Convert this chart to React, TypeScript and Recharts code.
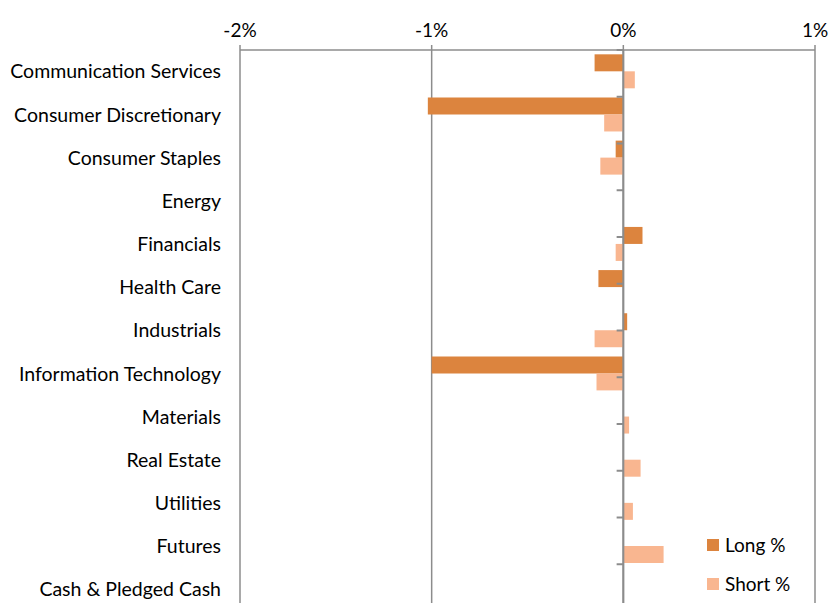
import { BarChart, Bar, XAxis, YAxis, CartesianGrid, ReferenceLine } from 'recharts';

const categories = [
  'Communication Services',
  'Consumer Discretionary',
  'Consumer Staples',
  'Energy',
  'Financials',
  'Health Care',
  'Industrials',
  'Information Technology',
  'Materials',
  'Real Estate',
  'Utilities',
  'Futures',
  'Cash & Pledged Cash',
];

const longPct = [-0.15, -1.02, -0.04, 0, 0.1, -0.13, 0.02, -1.0, 0, 0, 0, 0, 0];
const shortPct = [0.06, -0.1, -0.12, 0, -0.04, 0, -0.15, -0.14, 0.03, 0.09, 0.05, 0.21, 0];

const xTicks = [-2, -1, 0, 1];

const LONG_COLOR = '#DC843E';
const SHORT_COLOR = '#F9B690';
const GRID = '#8c8c8c';
const FONT = 'Lato, "Open Sans", sans-serif';

const chartData = categories.map((name, i) => ({
  name,
  long: longPct[i],
  short: shortPct[i],
}));

// boundaries between categories, used for the small ticks on the zero axis
const boundaries = categories.slice(1).map((_, i) => i + 1);

function LegendBox() {
  const items = [
    { label: 'Long %', color: LONG_COLOR },
    { label: 'Short %', color: SHORT_COLOR },
  ];
  return (
    <div style={{ position: 'absolute', left: 707, top: 525, fontFamily: FONT, fontSize: 19, color: '#000' }}>
      {items.map((it) => (
        <div key={it.label} style={{ display: 'flex', alignItems: 'center', height: 39 }}>
          <span style={{ width: 12, height: 12, background: it.color, marginRight: 6, display: 'inline-block' }} />
          <span>{it.label}</span>
        </div>
      ))}
    </div>
  );
}

export default function App() {
  return (
    <div style={{ position: 'fixed', left: 0, top: 0, width: 830, height: 603, overflow: 'hidden', background: '#fff' }}>
      <BarChart
        width={830}
        height={611}
        data={chartData}
        layout="vertical"
        margin={{ top: 0, right: 15, left: 0, bottom: 0 }}
        barCategoryGap="10%"
        barGap={0}
      >
        <CartesianGrid horizontal={false} stroke={GRID} strokeWidth={1.5} />
        <XAxis
          type="number"
          orientation="top"
          domain={[-2, 1]}
          ticks={xTicks}
          tickFormatter={(v) => `${v}%`}
          height={50}
          tickSize={5}
          tickMargin={8}
          axisLine={{ stroke: GRID, strokeWidth: 1.5 }}
          tickLine={{ stroke: GRID, strokeWidth: 1.5 }}
          tick={{ fill: '#000', fontSize: 19, fontFamily: FONT }}
        />
        <YAxis
          type="category"
          dataKey="name"
          width={240}
          axisLine={false}
          tickLine={false}
          tickSize={0}
          tickMargin={19}
          interval={0}
          tick={{ fill: '#000', fontSize: 19.5, fontFamily: FONT }}
        />
        <YAxis yAxisId="n" type="number" domain={[0, categories.length]} reversed hide />
        <Bar dataKey="long" name="Long %" fill={LONG_COLOR} isAnimationActive={false} />
        <Bar dataKey="short" name="Short %" fill={SHORT_COLOR} isAnimationActive={false} />
        <ReferenceLine x={0} stroke={GRID} strokeWidth={2} />
        {boundaries.map((k) => (
          <ReferenceLine
            key={k}
            yAxisId="n"
            segment={[{ x: -0.035, y: k }, { x: 0, y: k }]}
            stroke={GRID}
            strokeWidth={2}
          />
        ))}
      </BarChart>
      <LegendBox />
    </div>
  );
}
